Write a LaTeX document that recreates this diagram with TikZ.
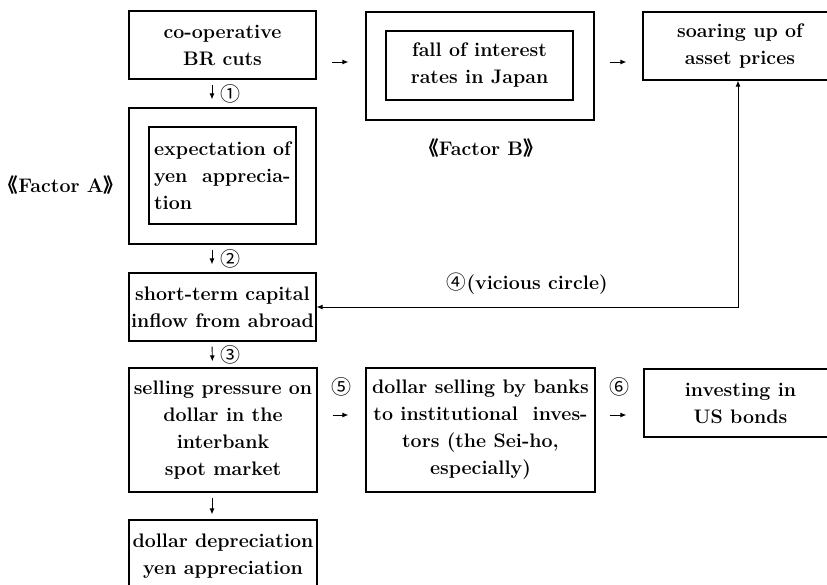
\documentclass[tikz,border=0pt]{standalone}
\usepackage{fontspec}
\newfontfamily\cjkfont{Noto Sans CJK SC}
\usetikzlibrary{positioning}
\usetikzlibrary{arrows.meta}

\begin{document}
\begin{tikzpicture}[x=1pt,y=-1pt,
             font=\fontsize{19.6}{27}\selectfont\bfseries,
             box/.style={draw, line width=1.2pt, align=center, inner sep=0pt,
                minimum width=187pt, minimum height=68pt},
             frame/.style={draw, line width=1.2pt, inner sep=0pt},
             num/.style={font=\fontsize{20}{20}\selectfont\cjkfont\mdseries, inner sep=0pt},
             factor/.style={inner sep=0pt},
             flow/.style={-{Latex[length=6pt,width=5pt]}, line width=0.9pt},
             twoway/.style={{Latex[length=6pt,width=5pt]}-{Latex[length=6pt,width=5pt]}, line width=0.9pt},
          ]
          \clip (0,0) rectangle (827,584);

          % left column
          \node at (222.5,45) (cuts) [box] {co-operative\\BR cuts};
          \node at (222.5,176) (expOuter) [frame, minimum width=187pt, minimum height=136pt] {};
          \node at (222.5,175.5) (exp) [box, align=left, minimum width=147pt, minimum height=97pt]
                {expectation of\\yen~~apprecia-\\tion};
          \node at (222.5,307) (inflow) [box] {short-term capital\\inflow from abroad};
          \node at (223,430) (pressure) [box, minimum width=188pt, minimum height=124pt]
                {selling pressure on\\dollar in the\\interbank\\spot market};
          \node at (223,556.5) (depr) [box, minimum width=188pt, minimum height=73pt]
                {dollar depreciation\\yen appreciation};

          % middle and right
          \node at (480,66) (rateOuter) [frame, minimum width=228pt, minimum height=108pt] {};
          \node at (479.5,65.5) (rate) [box, minimum height=69pt] {fall of interest\\rates in Japan};
          \node at (740,46) (asset) [box, minimum width=194pt] {soaring up of\\asset prices};
          \node at (480.5,430) (banks) [box, minimum width=229pt, minimum height=124pt]
                {dollar selling by banks\\to institutional~~inves-\\tors (the Sei-ho,\\especially)};
          \node at (740.5,403) (bonds) [box, minimum width=193pt] {investing in\\US bonds};

          \node at (61,185) (factorA) [factor] {{\cjkfont 《}Factor A{\cjkfont 》}};
          \node at (481,148) (factorB) [factor] {{\cjkfont 《}Factor B{\cjkfont 》}};

          \draw[flow, shorten <=5pt, shorten >=8pt] ([xshift=-10.5pt]cuts.south) -- node[num, right=8pt] {①} ([xshift=-10.5pt]expOuter.north);
          \draw[flow, shorten <=5pt, shorten >=8pt] ([xshift=-10.5pt]expOuter.south) -- node[num, right=8pt] {②} ([xshift=-10.5pt]inflow.north);
          \draw[flow, shorten <=5pt, shorten >=6pt] ([xshift=-10.5pt]inflow.south) -- node[num, right=8pt] {③} ([xshift=-10.5pt]pressure.north);
          \draw[flow, shorten <=5pt, shorten >=5pt] ([xshift=-11pt]pressure.south) -- ([xshift=-11pt]depr.north);
          \draw[flow, shorten <=15pt, shorten >=17pt] ([yshift=-17pt]cuts.east) -- ([yshift=4pt]rateOuter.west);
          \draw[flow, shorten <=15pt, shorten >=16pt] ([yshift=4pt]rateOuter.east) -- ([yshift=-16pt]asset.west);
          \draw[flow, shorten <=15pt, shorten >=17pt] ([yshift=15pt]pressure.east) -- node[num, above=18pt] {⑤} ([yshift=15pt]banks.west);
          \draw[flow, shorten <=14pt, shorten >=17pt] ([yshift=15pt]banks.east) -- node[num, above=18pt] {⑥} ([yshift=-12pt]bonds.west);
          \draw[twoway] (inflow.east) -| node[pos=0.25, above=9pt] {{\cjkfont\mdseries ④}(vicious circle)} ([xshift=-2pt]asset.south);

       \end{tikzpicture}
\end{document}
